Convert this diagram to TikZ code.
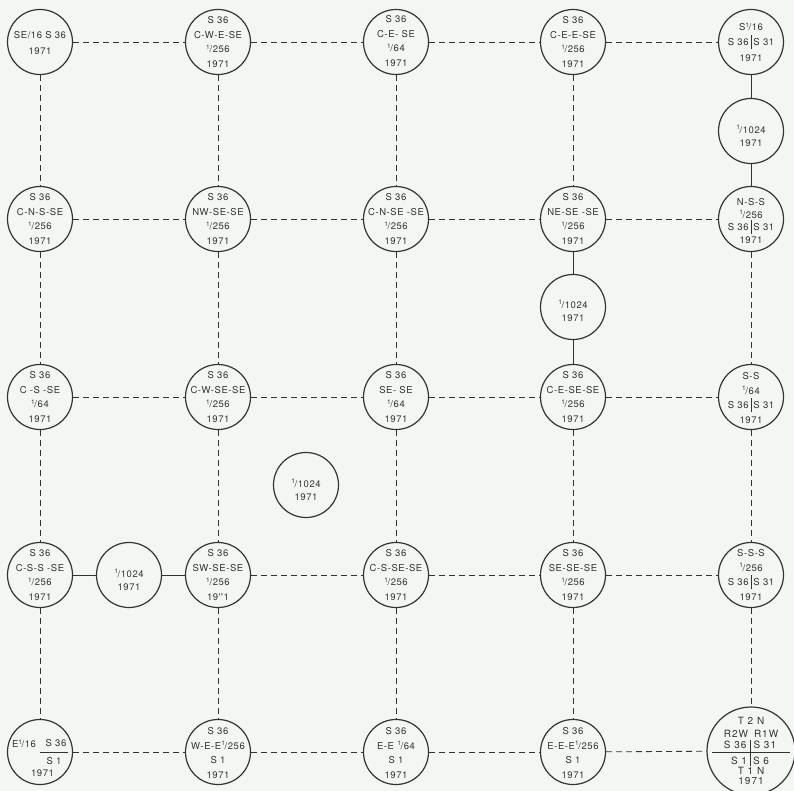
\documentclass[tikz,border=0pt]{standalone}
\usepackage{fontspec}
\newfontfamily\lab[LetterSpace=6]{TeX Gyre Heros}
\newfontfamily\labw[LetterSpace=10]{TeX Gyre Heros}
\definecolor{ink}{HTML}{333333}
\definecolor{paper}{HTML}{F4F6F3}
\newcommand\fr[1]{\raisebox{3.4pt}{\fontsize{6.5}{6.5}\selectfont 1}\kern-0.3pt/#1}
\newcommand\vbar{\hspace{2pt}\smash{\rule[-3.5pt]{0.9pt}{14pt}}\hspace{2pt}}
\tikzset{
  circ/.style={circle, draw=ink, line width=1.2pt, minimum size=65pt, inner sep=0pt},
  bigcirc/.style={circle, draw=ink, line width=1.2pt, minimum size=88pt, inner sep=0pt},
  txt/.style={align=center, inner sep=0pt, text=ink, font=\lab\fontsize{9.5}{14.5}\selectfont},
  txtb/.style={inner sep=0pt, text=ink, anchor=base, font=\labw\fontsize{10}{12}\selectfont},
  dl/.style={draw=ink, line width=0.85pt, dash pattern=on 6pt off 4pt},
  sl/.style={draw=ink, line width=0.95pt},
  rl/.style={draw=ink, line width=0.95pt}
}
\begin{document}
\begin{tikzpicture}[x=1pt,y=-1pt]
\useasboundingbox (0,0) rectangle (794,791);
\clip (0,0) rectangle (794,791);
\fill[paper] (0,0) rectangle (794,791);

% ---- circles
\node[circ] (a11) at (40,42) {};
\node[circ] (a12) at (218,42) {};
\node[circ] (a13) at (396,42) {};
\node[circ] (a14) at (573,42) {};
\node[circ] (a15) at (751,42) {};
\node[circ] (b15) at (751,131) {};
\node[circ] (a21) at (40,219) {};
\node[circ] (a22) at (218,219) {};
\node[circ] (a23) at (396,219) {};
\node[circ] (a24) at (573,219) {};
\node[circ] (a25) at (751,219) {};
\node[circ] (b24) at (573,307) {};
\node[circ] (a31) at (40,397) {};
\node[circ] (a32) at (218,397) {};
\node[circ] (a33) at (396,397) {};
\node[circ] (a34) at (573,397) {};
\node[circ] (a35) at (751,397) {};
\node[circ] (b33) at (306,485) {};
\node[circ] (a41) at (40,575) {};
\node[circ] (b41) at (129,575) {};
\node[circ] (a42) at (218,575) {};
\node[circ] (a43) at (396,575) {};
\node[circ] (a44) at (573,575) {};
\node[circ] (a45) at (751,575) {};
\node[circ] (a51) at (40,752) {};
\node[circ] (a52) at (218,752) {};
\node[circ] (a53) at (396,752) {};
\node[circ] (a54) at (573,752) {};
\node[bigcirc] (a55) at (751,751) {};

% ---- connectors
\foreach \p/\q in {a11/a12,a12/a13,a13/a14,a14/a15,
                   a21/a22,a22/a23,a23/a24,a24/a25,
                   a31/a32,a32/a33,a33/a34,a34/a35,
                   a42/a43,a43/a44,a44/a45,
                   a51/a52,a52/a53,a53/a54,a54/a55,
                   a11/a21,a21/a31,a31/a41,a41/a51,
                   a12/a22,a22/a32,a32/a42,a42/a52,
                   a13/a23,a23/a33,a33/a43,a43/a53,
                   a14/a24,a34/a44,a44/a54,
                   a25/a35,a35/a45,a45/a55}
  \draw[dl] (\p) -- (\q);
\foreach \p/\q in {a15/b15,b15/a25,a24/b24,b24/a34,a41/b41,b41/a42}
  \draw[sl] (\p) -- (\q);

% ---- texts
\node[txt] (t11) at (40,43) {SE/16 S 36\\[2pt]1971};
\node[txt] (t12) at (218,42) {S 36\\C-W-E-SE\\\fr{256}\\1971};
\node[txt] (t13) at (396,41) {S 36\\C-E- SE\\\fr{64}\\1971};
\node[txt] (t14) at (573,42) {S 36\\C-E-E-SE\\\fr{256}\\1971};
\node[txt, font=\lab\fontsize{9.5}{15.5}\selectfont] (t15) at (751,42) {S\fr{16}\\S 36\vbar S 31\\1971};
\node[txt, font=\lab\fontsize{9.5}{13.5}\selectfont] (u15) at (751,136) {\fr{1024}\\1971};
\node[txt] (t21) at (40,219) {S 36\\C-N-S-SE\\\fr{256}\\1971};
\node[txt] (t22) at (218,219) {S 36\\NW-SE-SE\\\fr{256}\\1971};
\node[txt] (t23) at (396,219) {S 36\\C-N-SE -SE\\\fr{256}\\1971};
\node[txt] (t24) at (573,219) {S 36\\NE-SE -SE\\\fr{256}\\1971};
\node[txt, font=\lab\fontsize{9.5}{12.8}\selectfont] (t25) at (751,221) {N-S-S\\\fr{256}\\S 36\vbar S 31\\1971};
\node[txt, font=\lab\fontsize{9.5}{13.5}\selectfont] (u24) at (573,311) {\fr{1024}\\1971};
\node[txt] (t31) at (40,397) {S 36\\C -S -SE\\\fr{64}\\1971};
\node[txt] (t32) at (218,397) {S 36\\C-W-SE-SE\\\fr{256}\\1971};
\node[txt] (t33) at (396,397) {S 36\\SE- SE\\\fr{64}\\1971};
\node[txt] (t34) at (573,397) {S 36\\C-E-SE-SE\\\fr{256}\\1971};
\node[txt] (t35) at (751,398) {S-S\\\fr{64}\\S 36\vbar S 31\\1971};
\node[txt, font=\lab\fontsize{9.5}{13.5}\selectfont] (u33) at (306,490) {\fr{1024}\\1971};
\node[txt] (t41) at (40,575) {S 36\\C-S-S -SE\\\fr{256}\\1971};
\node[txt, font=\lab\fontsize{9.5}{13.5}\selectfont] (u41) at (129,580) {\fr{1024}\\1971};
\node[txt] (t42) at (218,575) {S 36\\SW-SE-SE\\\fr{256}\\19''1};
\node[txt] (t43) at (396,575) {S 36\\C-S-SE-SE\\\fr{256}\\1971};
\node[txt] (t44) at (573,575) {S 36\\SE-SE-SE\\\fr{256}\\1971};
\node[txt] (t45) at (751,575) {S-S-S\\\fr{256}\\S 36\vbar S 31\\1971};
% bottom row
\node[txt] (e1) at (24,744) {E\fr{16}};
\node[txt] (e2) at (56,743) {S 36};
\draw[rl] (40,752) -- (68,752);
\node[txt] (e3) at (54,761) {S 1};
\node[txt] (e4) at (42.5,773) {1971};
\node[txt] (t52) at (218,753) {S 36\\W-E-E\fr{256}\\S 1\\1971};
\node[txt] (t53) at (396,753) {S 36\\E-E \fr{64}\\S 1\\1971};
\node[txt] (t54) at (573,753) {S 36\\E-E-E\fr{256}\\S 1\\1971};
% big circle
\node[txtb] (g1) at (751,724) {T 2 N};
\node[txtb] (g2) at (751,737) {R2W\hspace{6pt}R1W};
\node[txtb] (g3) at (750,748.5) {S 36\hspace{7pt}S 31};
\draw[rl] (712,752) -- (790,752);
\draw[rl] (750,739.5) -- (750,766);
\node[txtb] (g4) at (750,764) {S 1\hspace{6pt}S 6};
\node[txtb] (g5) at (751,774) {T 1 N};
\node[txtb] (g6) at (751,784) {1971};
\end{tikzpicture}
\end{document}
